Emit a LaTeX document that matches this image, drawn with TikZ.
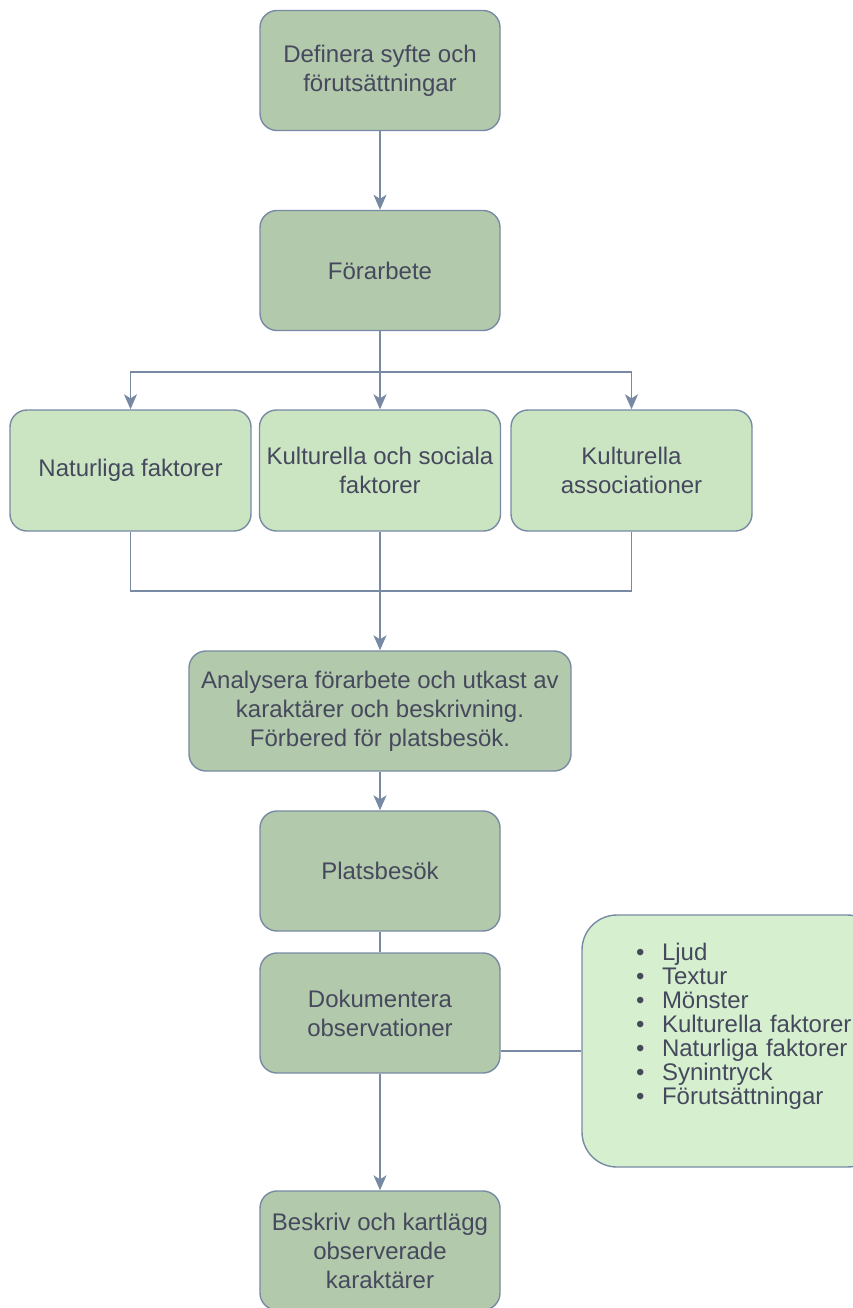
\documentclass[tikz,border=0pt]{standalone}
\usepackage{fontspec}
\setmainfont{Liberation Sans}
\usepackage{xcolor}
\usepackage{tikz}
\usetikzlibrary{arrows.meta, positioning}
\definecolor{sagefill}{HTML}{B2C9AB}
\definecolor{leaffill}{HTML}{CBE5C3}
\definecolor{listfill}{HTML}{D6F0CF}
\definecolor{slateline}{HTML}{788AA3}
\definecolor{inkgray}{HTML}{46495D}

\begin{document}
\begin{tikzpicture}[x=1pt, y=-1pt, >={Stealth[length=15pt, width=13pt, inset=4pt]},
    stage/.style={draw=slateline, line width=1.4pt, fill=sagefill, rounded corners=17pt,
        minimum width=240pt, minimum height=120pt, align=center, inner sep=4pt,
        text=inkgray, font=\fontsize{24}{29}\selectfont},
    factor/.style={stage, fill=leaffill, minimum width=241pt, minimum height=121pt},
    link/.style={slateline, line width=1.4pt}]
    \useasboundingbox (0,0) rectangle (852,1308);

    % main chain
    \node[stage] (syfte) at (380,70.5) {Definera syfte och\\förutsättningar};
    \node[stage] (forarbete) at (380,270.5) {Förarbete};
    \node[factor] (naturliga) at (130.5,470.5) {Naturliga faktorer};
    \node[factor] (kulturella) at (380,470.5) {Kulturella och sociala\\faktorer};
    \node[factor] (assoc) at (631.5,470.5) {Kulturella\\associationer};
    \node[stage, minimum width=382pt] (analys) at (380,711)
        {Analysera förarbete och utkast av\\karaktärer och beskrivning.\\Förbered för platsbesök.};
    \node[stage] (platsbesok) at (380,871) {Platsbesök};
    \node[stage] (dokumentera) at (380,1013) {Dokumentera\\observationer};
    \node[stage, minimum height=119pt] (beskriv) at (380,1250.5)
        {Beskriv och kartlägg\\observerade\\karaktärer};

    % observation list
    \node[draw=slateline, line width=1.4pt, fill=listfill, rounded corners=35pt,
        minimum height=252pt, text width=300pt, inner xsep=0pt, align=left,
        text=inkgray, font=\fontsize{24}{24}\selectfont] (lista) at (732,1041)
        {\hspace*{54pt}\makebox[26pt][l]{\textbullet}Ljud\\
         \hspace*{54pt}\makebox[26pt][l]{\textbullet}Textur\\
         \hspace*{54pt}\makebox[26pt][l]{\textbullet}Mönster\\
         \hspace*{54pt}\makebox[26pt][l]{\textbullet}Kulturella faktorer\\
         \hspace*{54pt}\makebox[26pt][l]{\textbullet}Naturliga faktorer\\
         \hspace*{54pt}\makebox[26pt][l]{\textbullet}Synintryck\\
         \hspace*{54pt}\makebox[26pt][l]{\textbullet}Förutsättningar\rule[-34pt]{0pt}{0pt}};

    \coordinate (split) at (380,372);
    \coordinate (join) at (380,591);
    \coordinate (tap) at (500,1051);

    \draw[link, ->] (syfte) -- (forarbete);
    \draw[link, ->] (forarbete) -- (kulturella);
    \draw[link, ->] (split) -| (naturliga);
    \draw[link, ->] (split) -| (assoc);
    \draw[link] (naturliga.south) |- (assoc.south |- join) -- (assoc.south);
    \draw[link, ->] (kulturella) -- (analys);
    \draw[link, ->] (analys) -- (platsbesok);
    \draw[link] (platsbesok) -- (dokumentera);
    \draw[link] (dokumentera.east |- tap) -- (lista.west |- tap);
    \draw[link, ->] (dokumentera) -- (beskriv);
\end{tikzpicture}
\end{document}
